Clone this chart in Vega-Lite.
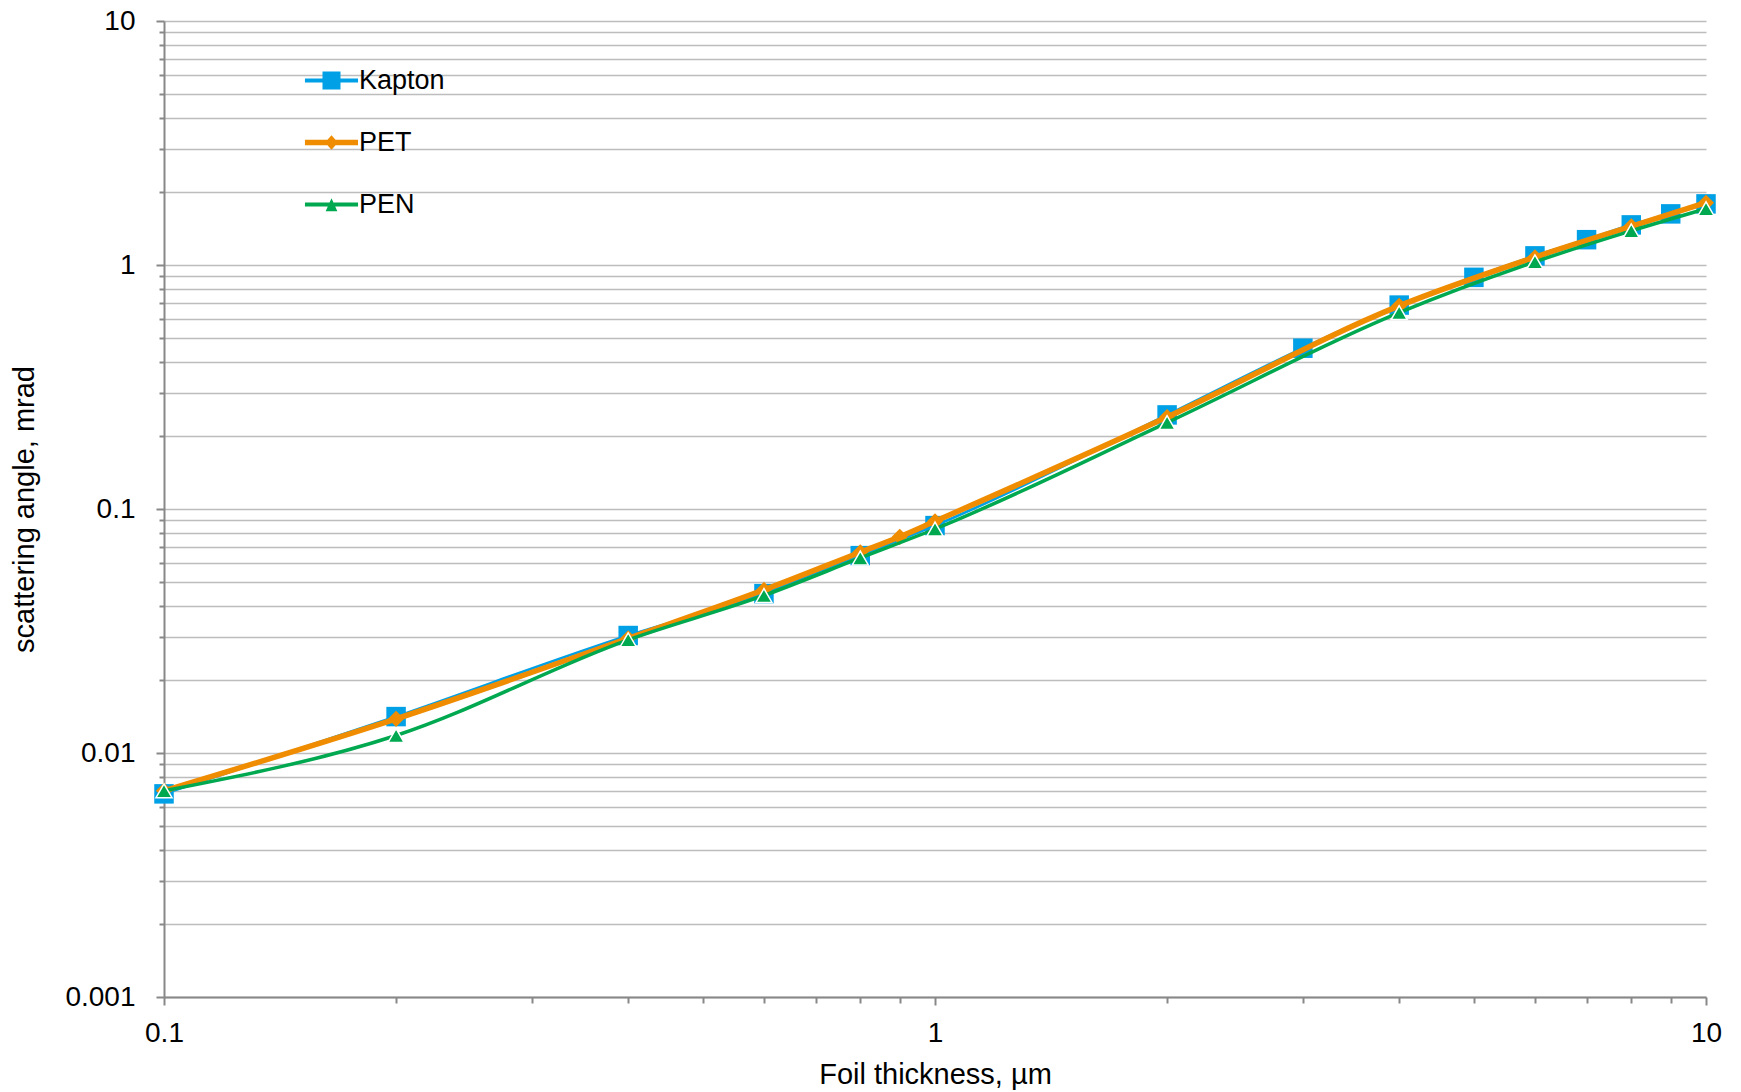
{
  "$schema": "https://vega.github.io/schema/vega-lite/v6.json",
  "width": 1542,
  "height": 976,
  "autosize": {"type": "none"},
  "padding": {"left": 164, "top": 21, "right": 35, "bottom": 95},
  "background": "white",
  "config": {
    "view": {"stroke": null},
    "font": "Liberation Sans",
    "axis": {
      "labelFont": "Liberation Sans",
      "titleFont": "Liberation Sans",
      "labelFontSize": 28,
      "titleFontSize": 29,
      "labelColor": "#000000",
      "titleColor": "#000000",
      "titleFontWeight": "normal",
      "domainColor": "#888888",
      "domainWidth": 2,
      "tickColor": "#888888",
      "tickWidth": 2,
      "gridColor": "#bdbdbd",
      "gridWidth": 1.5,
      "labelOverlap": false,
      "labelFlush": false
    }
  },
  "data": {
    "values": [
      {"s": "Kapton", "x": 0.1, "y": 0.0068},
      {"s": "Kapton", "x": 0.2, "y": 0.0141},
      {"s": "Kapton", "x": 0.4, "y": 0.0303},
      {"s": "Kapton", "x": 0.6, "y": 0.045},
      {"s": "Kapton", "x": 0.8, "y": 0.0644},
      {"s": "Kapton", "x": 1, "y": 0.0855},
      {"s": "Kapton", "x": 2, "y": 0.243},
      {"s": "Kapton", "x": 3, "y": 0.456},
      {"s": "Kapton", "x": 4, "y": 0.685},
      {"s": "Kapton", "x": 5, "y": 0.89},
      {"s": "Kapton", "x": 6, "y": 1.09},
      {"s": "Kapton", "x": 7, "y": 1.27},
      {"s": "Kapton", "x": 8, "y": 1.46},
      {"s": "Kapton", "x": 9, "y": 1.62},
      {"s": "Kapton", "x": 10, "y": 1.78},
      {"s": "PET", "x": 0.1, "y": 0.0070},
      {"s": "PET", "x": 0.2, "y": 0.0138},
      {"s": "PET", "x": 0.4, "y": 0.0295},
      {"s": "PET", "x": 0.6, "y": 0.0466},
      {"s": "PET", "x": 0.8, "y": 0.0665},
      {"s": "PET", "x": 0.9, "y": 0.0769},
      {"s": "PET", "x": 1, "y": 0.089},
      {"s": "PET", "x": 2, "y": 0.238},
      {"s": "PET", "x": 4, "y": 0.68},
      {"s": "PET", "x": 6, "y": 1.076},
      {"s": "PET", "x": 8, "y": 1.44},
      {"s": "PET", "x": 10, "y": 1.8},
      {"s": "PEN", "x": 0.1, "y": 0.0070},
      {"s": "PEN", "x": 0.2, "y": 0.0118},
      {"s": "PEN", "x": 0.4, "y": 0.0291},
      {"s": "PEN", "x": 0.6, "y": 0.0442},
      {"s": "PEN", "x": 0.8, "y": 0.063},
      {"s": "PEN", "x": 1, "y": 0.0828},
      {"s": "PEN", "x": 2, "y": 0.226},
      {"s": "PEN", "x": 4, "y": 0.638},
      {"s": "PEN", "x": 6, "y": 1.03},
      {"s": "PEN", "x": 8, "y": 1.38},
      {"s": "PEN", "x": 10, "y": 1.70}
    ]
  },
  "encoding": {
    "x": {
      "field": "x",
      "type": "quantitative",
      "scale": {"type": "log", "domain": [0.1, 10], "nice": false},
      "axis": {
        "title": "Foil thickness, µm",
        "grid": false,
        "values": [0.1, 0.2, 0.3, 0.4, 0.5, 0.6, 0.7, 0.8, 0.9, 1, 2, 3, 4, 5, 6, 7, 8, 9, 10],
        "format": "~g",
        "labelExpr": "abs(log(datum.value)/LN10 - round(log(datum.value)/LN10)) < 1e-6 ? datum.label : ''",
        "tickSize": {"condition": {"test": "abs(log(datum.value)/LN10 - round(log(datum.value)/LN10)) < 1e-6", "value": 8}, "value": 6},
        "labelPadding": 14,
        "titleX": 771,
        "titleY": 77,
        "titleBaseline": "middle",
        "titleAlign": "center"
      }
    },
    "y": {
      "field": "y",
      "type": "quantitative",
      "scale": {"type": "log", "domain": [0.001, 10], "nice": false},
      "axis": {
        "title": "scattering angle, mrad",
        "grid": true,
        "values": [0.001, 0.002, 0.003, 0.004, 0.005, 0.006, 0.007, 0.008, 0.009, 0.01, 0.02, 0.03, 0.04, 0.05, 0.06, 0.07, 0.08, 0.09, 0.1, 0.2, 0.3, 0.4, 0.5, 0.6, 0.7, 0.8, 0.9, 1, 2, 3, 4, 5, 6, 7, 8, 9, 10],
        "format": "~g",
        "labelExpr": "abs(log(datum.value)/LN10 - round(log(datum.value)/LN10)) < 1e-6 ? datum.label : ''",
        "tickSize": {"condition": {"test": "abs(log(datum.value)/LN10 - round(log(datum.value)/LN10)) < 1e-6", "value": 8}, "value": 5},
        "labelPadding": 21,
        "titleX": -140,
        "titleY": 488,
        "titleAngle": 270,
        "titleBaseline": "middle",
        "titleAlign": "center"
      }
    },
    "color": {
      "field": "s",
      "type": "nominal",
      "sort": ["Kapton", "PET", "PEN"],
      "scale": {"domain": ["Kapton", "PET", "PEN"], "range": ["#00a0e6", "#f08c00", "#00a850"]},
      "legend": {
        "title": null,
        "orient": "none",
        "legendX": 154,
        "legendY": 46,
        "labelFont": "Liberation Sans",
        "labelFontSize": 27,
        "labelColor": "#000000",
        "labelOffset": 14,
        "rowPadding": 34,
        "symbolSize": 324,
        "symbolStrokeWidth": 0,
        "symbolType": "square",
        "encode": {
          "symbols": {
            "update": {
              "shape": {"signal": "datum.value === 'Kapton' ? 'M-2.95,-0.22H-1V-1H1V-0.22H2.95V0.22H1V1H-1V0.22H-2.95Z' : datum.value === 'PET' ? 'M-2.95,-0.3L-0.45,-0.3L0,-0.8L0.45,-0.3L2.95,-0.3L2.95,0.3L0.45,0.3L0,0.8L-0.45,0.3L-2.95,0.3Z' : 'M-2.95,-0.22L-0.215,-0.22L0,-0.7L0.215,-0.22L2.95,-0.22L2.95,0.22L0.412,0.22L0.65,0.75L-0.65,0.75L-0.412,0.22L-2.95,0.22Z'"},
              "fill": {"scale": "color", "field": "value"},
              "strokeWidth": {"value": 0},
              "opacity": {"value": 1}
            }
          }
        }
      }
    }
  },
  "layer": [
    {
      "transform": [{"filter": "datum.s === 'Kapton'"}],
      "mark": {"type": "line", "interpolate": "monotone", "strokeWidth": 2.75}
    },
    {
      "transform": [{"filter": "datum.s === 'Kapton'"}],
      "mark": {"type": "point", "shape": "square", "filled": true, "opacity": 1, "size": 380, "strokeWidth": 0}
    },
    {
      "transform": [{"filter": "datum.s === 'PET'"}],
      "mark": {"type": "line", "interpolate": "monotone", "strokeWidth": 5.5}
    },
    {
      "transform": [{"filter": "datum.s === 'PET'"}],
      "mark": {"type": "point", "shape": "diamond", "filled": true, "opacity": 1, "size": 260, "strokeWidth": 0}
    },
    {
      "transform": [{"filter": "datum.s === 'PEN'"}],
      "mark": {"type": "line", "interpolate": "monotone", "strokeWidth": 3.5}
    },
    {
      "transform": [{"filter": "datum.s === 'PEN'"}],
      "mark": {"type": "point", "shape": "triangle-up", "filled": true, "opacity": 1, "size": 256, "stroke": "white", "strokeWidth": 1.5}
    }
  ]
}
